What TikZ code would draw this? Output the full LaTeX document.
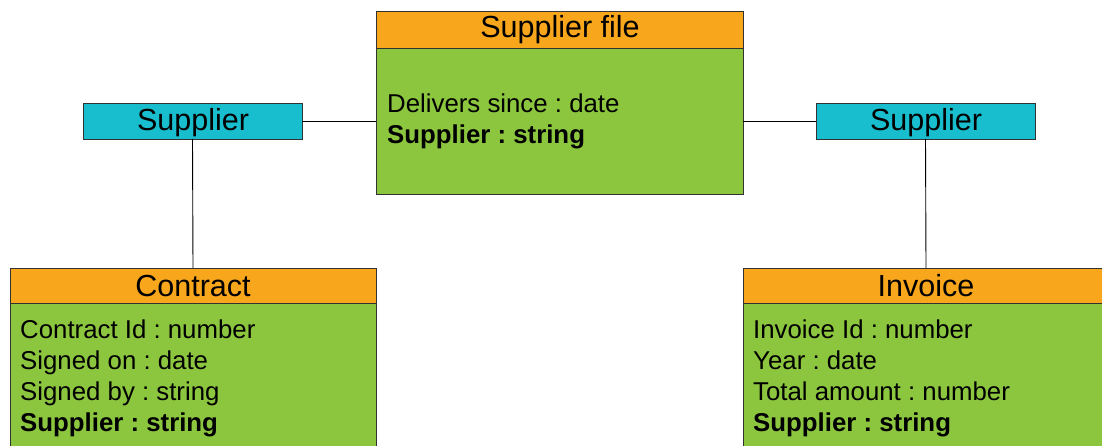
\documentclass[tikz,border=0pt]{standalone}
\usepackage{fontspec}
\setmainfont{Liberation Sans}
\frenchspacing
\definecolor{hdr}{RGB}{248,166,27}
\definecolor{bodyg}{RGB}{140,198,63}
\definecolor{cyanb}{RGB}{24,190,206}
\definecolor{edge}{RGB}{50,50,50}
\begin{document}
\begin{tikzpicture}[x=1pt,y=-1pt,
  box/.style={draw=edge, line width=0.9pt, inner sep=0pt, outer sep=0pt, anchor=north west},
  hdrbox/.style={box, fill=hdr},
  bodybox/.style={box, fill=bodyg},
  supbox/.style={box, fill=cyanb},
  title/.style={inner sep=0pt, anchor=base, font=\fontsize{30.5}{36}\selectfont},
  attr/.style={inner sep=0pt, anchor=base west, font=\fontsize{25.8}{31}\selectfont},
  key/.style={attr, font=\fontsize{25.8}{31}\selectfont\bfseries},
  conn/.style={draw=black, line width=0.9pt}]
\clip (0,0) rectangle (1102,446);
\fill[white] (0,0) rectangle (1102,446);
% Supplier file
\node[bodybox, minimum width=367pt, minimum height=146pt] (fileb) at (376,48) {};
\node[hdrbox, minimum width=367pt, minimum height=37pt] (fileh) at (376,11) {};
\node[title] (filet) at (560,38) {Supplier file};
\node[attr] (filea1) at (387,113) {Delivers since : date};
\node[key] (filea2) at (387,143.5) {Supplier : string};
% Suppliers
\node[supbox, minimum width=219pt, minimum height=36pt] (supL) at (83,103) {};
\node[title] (supLt) at (193,131) {Supplier};
\node[supbox, minimum width=219pt, minimum height=36pt] (supR) at (816,103) {};
\node[title] (supRt) at (926,131) {Supplier};
% Contract
\node[bodybox, minimum width=366pt, minimum height=160pt] (conb) at (10,303) {};
\node[hdrbox, minimum width=366pt, minimum height=35pt] (conh) at (10,268) {};
\node[title] (cont) at (193,296) {Contract};
\node[attr] (cona1) at (20,338) {Contract Id : number};
\node[attr] (cona2) at (20,369) {Signed on : date};
\node[attr] (cona3) at (20,400) {Signed by : string};
\node[key] (cona4) at (20,431) {Supplier : string};
% Invoice
\node[bodybox, minimum width=366pt, minimum height=160pt] (invb) at (743,303) {};
\node[hdrbox, minimum width=366pt, minimum height=35pt] (invh) at (743,268) {};
\node[title] (invt) at (926,296) {Invoice};
\node[attr] (inva1) at (753,338) {Invoice Id : number};
\node[attr] (inva2) at (753,369) {Year : date};
\node[attr] (inva3) at (753,400) {Total amount : number};
\node[key] (inva4) at (753,431) {Supplier : string};
% connectors
\draw[conn] (supL.east) -- (supL.east -| fileb.west);
\draw[conn] (supR.west) -- (supR.west -| fileb.east);
\draw[conn] (supL.south) -- (conh.north);
\draw[conn] (supR.south) -- (invh.north);
\end{tikzpicture}
\end{document}
